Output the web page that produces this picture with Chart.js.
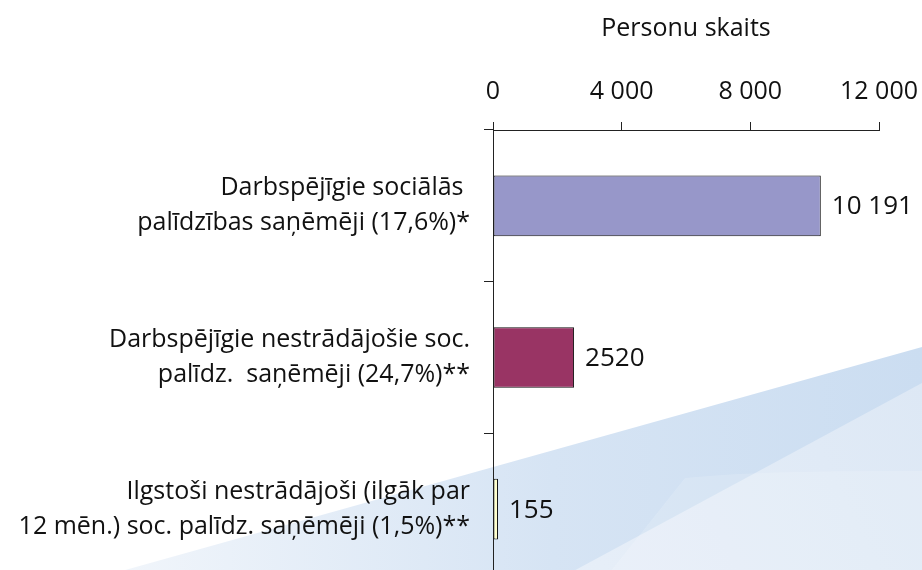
<!DOCTYPE html>
<html>
<head>
<meta charset="utf-8">
<script src="https://cdn.jsdelivr.net/npm/chart.js@4/dist/chart.umd.min.js"></script>
<style>
  html, body { margin: 0; padding: 0; overflow: hidden; background: #fff; }
  #wrap { width: 922px; height: 600px; }
</style>
</head>
<body>
<div id="wrap"><canvas id="plot" width="922" height="600"></canvas></div>
<script>
// data
const categories = [
  ['Darbspējīgie sociālās ', 'palīdzības saņēmēji (17,6%)*'],
  ['Darbspējīgie nestrādājošie soc.', 'palīdz.  saņēmēji (24,7%)**'],
  ['Ilgstoši nestrādājoši (ilgāk par', '12 mēn.) soc. palīdz. saņēmēji (1,5%)**']
];
const persons = [10191, 2520, 155];
const valueLabels = ['10 191', '2520', '155'];
const barColors = ['#9797c9', '#993464', '#ffffcc'];
const axisTitle = 'Personu skaits';

const FONT = '"Open Sans", sans-serif';

function spaced(v) {
  return String(v).replace(/\B(?=(\d{3})+(?!\d))/g, ' ');
}

// light blue swoosh in the lower right corner
const backdrop = {
  id: 'backdrop',
  beforeDraw(chart) {
    const c = chart.ctx;
    c.save();
    // outer band
    let g = c.createLinearGradient(922, 0, 100, 0);
    g.addColorStop(0, '#cbddf1');
    g.addColorStop(0.45, '#d6e4f4');
    g.addColorStop(1, '#f2f6fb');
    c.fillStyle = g;
    c.beginPath();
    c.moveTo(-107, 635);
    c.lineTo(922, 347);
    c.lineTo(922, 635);
    c.closePath();
    c.fill();
    // lighter inner part
    g = c.createLinearGradient(922, 383, 480, 600);
    g.addColorStop(0, '#dde8f5');
    g.addColorStop(1, '#e9f0f9');
    c.fillStyle = g;
    c.beginPath();
    c.moveTo(455, 635);
    c.lineTo(922, 383);
    c.lineTo(922, 635);
    c.closePath();
    c.fill();
    // faint curved sheet
    c.fillStyle = 'rgba(255,255,255,0.15)';
    c.beginPath();
    c.moveTo(685, 478);
    c.quadraticCurveTo(760, 470, 922, 471);
    c.lineTo(922, 635);
    c.lineTo(560, 635);
    c.closePath();
    c.fill();
    c.restore();
  }
};

// numbers at the end of each bar
const barValues = {
  id: 'barValues',
  afterDatasetsDraw(chart) {
    const c = chart.ctx;
    const meta = chart.getDatasetMeta(0);
    c.save();
    c.font = '26px ' + FONT;
    c.fillStyle = '#111';
    c.textBaseline = 'middle';
    meta.data.forEach((bar, i) => {
      c.fillText(valueLabels[i], bar.x + 11, bar.y + 1);
    });
    c.restore();
  }
};

new Chart('plot', {
  type: 'bar',
  data: {
    labels: categories,
    datasets: [{
      data: persons,
      backgroundColor: barColors,
      borderColor: '#111',
      borderWidth: 1,
      borderSkipped: false,
      barPercentage: 0.4,
      categoryPercentage: 1
    }]
  },
  options: {
    indexAxis: 'y',
    responsive: false,
    animation: false,
    layout: { padding: { top: 0, right: 43, bottom: 15, left: 0 } },
    plugins: {
      legend: { display: false },
      tooltip: { enabled: false }
    },
    scales: {
      x: {
        position: 'top',
        min: 0,
        max: 12000,
        afterFit(scale) {
          scale.height = 130;
          scale.paddingLeft = 0;
          scale.paddingRight = 0;
        },
        ticks: {
          stepSize: 4000,
          padding: 15,
          color: '#111',
          font: { family: FONT, size: 25 },
          callback: v => spaced(v)
        },
        title: {
          display: true,
          text: axisTitle,
          color: '#111',
          font: { family: FONT, size: 25 },
          padding: { top: 14, bottom: 0 }
        },
        grid: { drawOnChartArea: false, tickLength: 8, color: '#222' },
        border: { color: '#222' }
      },
      y: {
        afterFit(scale) {
          scale.width = 493;
          scale.paddingTop = 0;
          scale.paddingBottom = 0;
        },
        ticks: {
          padding: 14,
          color: '#111',
          font: { family: FONT, size: 25, lineHeight: 1.4 }
        },
        grid: { drawOnChartArea: false, tickLength: 9, color: '#222', offset: true },
        border: { color: '#222' }
      }
    }
  },
  plugins: [backdrop, barValues]
});
</script>
</body>
</html>
